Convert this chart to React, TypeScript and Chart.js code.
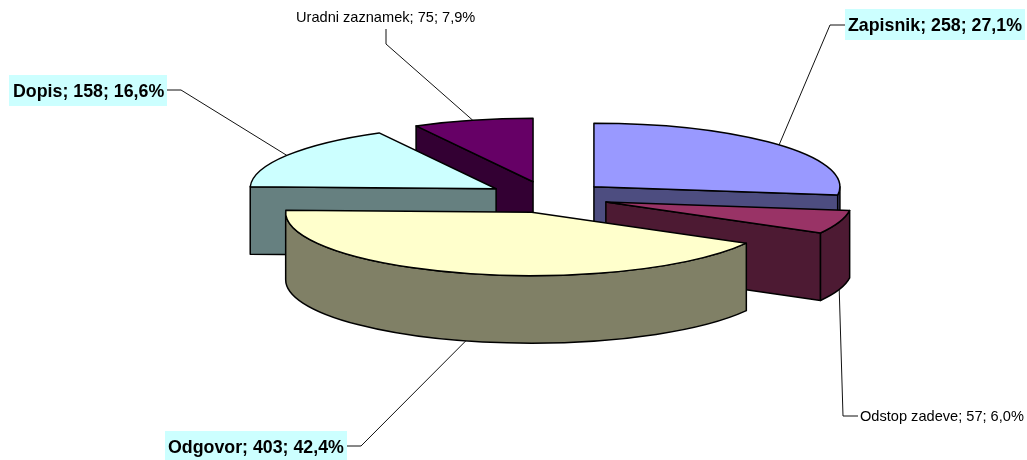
import React, { useEffect, useRef } from "react";
import { Chart, registerables } from "chart.js";

Chart.register(...registerables);

const categories = ["Zapisnik", "Odstop zadeve", "Odgovor", "Dopis", "Uradni zaznamek"];
const values = [258, 57, 403, 158, 75];
const topColors = ["#9999FF", "#993366", "#FFFFCC", "#CCFFFF", "#660066"];
const sideColors = ["#4D4D80", "#4D1A33", "#808066", "#668080", "#330033"];

// Label layout, one entry per category, in the same order
const labelBold = [true, false, true, true, false];
const labelBoxes = [
  { x: 845, y: 9, w: 180, h: 31 },
  { x: 858, y: 405, w: 169, h: 22 },
  { x: 165, y: 431, w: 182, h: 29 },
  { x: 9, y: 75, w: 158, h: 31 },
  { x: 296, y: 7, w: 181, h: 22 },
];
const labelBaselines = [31, 421, 453, 97, 22];
const labelTextX = [848, 860, 168, 13, 296];
const labelFill = ["#CCFFFF", null, "#CCFFFF", "#CCFFFF", null];
const leaderElbows = [
  [[845, 25], [830, 25]],
  [[858, 416], [843, 416]],
  [[347, 446], [361, 446]],
  [[167, 90], [181, 90]],
  [[386, 29], [386, 44]],
];

const TILT = 0.258;
const DEPTH = 67.5;
const EXPLODE = 61;

const pie3d = {
  id: "pie3d",
  beforeDatasetsDraw(chart: any) {
    const ctx = chart.ctx as CanvasRenderingContext2D;
    const arcs = chart.getDatasetMeta(0).data as any[];
    const total = values.reduce((s, v) => s + v, 0);
    const slices = arcs.map((arc, i) => {
      const mid = (arc.startAngle + arc.endAngle) / 2;
      return {
        i,
        a: arc.startAngle,
        b: arc.endAngle,
        mid,
        r: arc.outerRadius,
        x: arc.x + Math.cos(mid) * EXPLODE,
        y: arc.y + Math.sin(mid) * EXPLODE * TILT,
      };
    });
    const order = [...slices].sort((p, q) => p.y - q.y);
    ctx.save();
    ctx.lineJoin = "round";
    ctx.lineWidth = 1.5;
    ctx.strokeStyle = "#000";

    const paint = (fill: string) => {
      ctx.fillStyle = fill;
      ctx.fill();
      ctx.stroke();
    };

    // leader lines sit behind the slices
    ctx.save();
    ctx.lineWidth = 1;
    ctx.strokeStyle = "#111";
    slices.forEach((s) => {
      const back = Math.sin(s.mid) < 0;
      const sx = s.x + Math.cos(s.mid) * s.r;
      const sy = s.y + Math.sin(s.mid) * s.r * TILT + (back ? 0 : DEPTH);
      const [e1, e2] = leaderElbows[s.i];
      ctx.beginPath();
      ctx.moveTo(e1[0], e1[1]);
      ctx.lineTo(e2[0], e2[1]);
      ctx.lineTo(sx, sy);
      ctx.stroke();
    });
    ctx.restore();

    order.forEach((s) => {
      const ry = s.r * TILT;
      const side = sideColors[s.i];
      const radial = (t: number) => {
        const px = s.x + Math.cos(t) * s.r;
        const py = s.y + Math.sin(t) * ry;
        ctx.beginPath();
        ctx.moveTo(s.x, s.y);
        ctx.lineTo(px, py);
        ctx.lineTo(px, py + DEPTH);
        ctx.lineTo(s.x, s.y + DEPTH);
        ctx.closePath();
        paint(side);
      };
      if (Math.cos(s.a) < -1e-6) radial(s.a);
      if (Math.cos(s.b) > 1e-6) radial(s.b);

      // outer wall: the part of the rim that faces the viewer
      const from = Math.max(s.a, 0);
      const to = Math.min(s.b, Math.PI);
      if (to > from) {
        ctx.beginPath();
        ctx.ellipse(s.x, s.y, s.r, ry, 0, from, to);
        ctx.lineTo(s.x + Math.cos(to) * s.r, s.y + Math.sin(to) * ry + DEPTH);
        ctx.ellipse(s.x, s.y + DEPTH, s.r, ry, 0, to, from, true);
        ctx.closePath();
        paint(side);
      }

      // top face
      ctx.beginPath();
      ctx.moveTo(s.x, s.y);
      ctx.ellipse(s.x, s.y, s.r, ry, 0, s.a, s.b);
      ctx.closePath();
      paint(arcs[s.i].options.backgroundColor);
    });

    // labels
    ctx.textBaseline = "alphabetic";
    ctx.textAlign = "left";
    categories.forEach((name, i) => {
      const box = labelBoxes[i];
      const fill = labelFill[i];
      if (fill) {
        ctx.fillStyle = fill;
        ctx.fillRect(box.x, box.y, box.w, box.h);
      }
      const pct = ((values[i] / total) * 100).toFixed(1).replace(".", ",");
      ctx.font = labelBold[i] ? 'bold 17.8px "Liberation Sans"' : '14.6px "Liberation Sans"';
      ctx.fillStyle = "#000";
      ctx.fillText(`${name}; ${values[i]}; ${pct}%`, labelTextX[i], labelBaselines[i]);
    });
    ctx.restore();
    return false;
  },
};

export default function App() {
  const ref = useRef<HTMLCanvasElement>(null);
  useEffect(() => {
    document.body.style.margin = "0";
    const chart = new Chart(ref.current as HTMLCanvasElement, {
      type: "pie",
      data: {
        labels: categories,
        datasets: [{ data: values, backgroundColor: topColors, radius: 246 } as any],
      },
      options: {
        responsive: false,
        animation: false,
        layout: { padding: { left: 69, right: 0, top: 0, bottom: 66 } },
        plugins: { legend: { display: false }, tooltip: { enabled: false } },
      },
      plugins: [pie3d as any],
    });
    return () => chart.destroy();
  }, []);
  return <canvas ref={ref} width={1027} height={460} style={{ display: "block" }} />;
}
